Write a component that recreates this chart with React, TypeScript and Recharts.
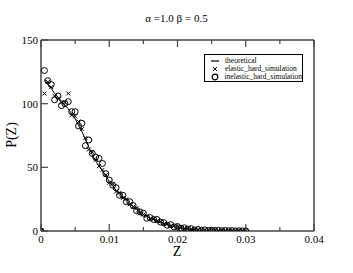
import React from 'react';
import { ComposedChart, Line, Scatter, XAxis, YAxis, Legend } from 'recharts';

const Z = [
  0, 0.0005, 0.001, 0.0015, 0.002, 0.0025, 0.003, 0.0035, 0.004, 0.0045,
  0.005, 0.0055, 0.006, 0.0065, 0.007, 0.0075, 0.008, 0.0085, 0.009, 0.0095,
  0.01, 0.0105, 0.011, 0.0115, 0.012, 0.0125, 0.013, 0.0135, 0.014, 0.0145,
  0.015, 0.0155, 0.016, 0.0165, 0.017, 0.0175, 0.018, 0.0185, 0.019, 0.0195,
  0.02, 0.0205, 0.021, 0.0215, 0.022, 0.0225, 0.023, 0.0235, 0.024, 0.0245,
  0.025, 0.0255, 0.026, 0.0265, 0.027, 0.0275, 0.028, 0.0285, 0.029, 0.0295, 0.03,
];

const THEORETICAL = [
  null, 119, 115, 112, 108, 105, 102, 99, 96, 92,
  88, 83, 78, 72, 66, 60, 55, 51, 47, 43,
  39, 35.5, 32, 29.5, 27, 24.5, 22, 19.5, 17, 15,
  13, 11.5, 10, 9, 8, 7, 6, 5, 4.2, 3.5,
  2.9, 2.4, 2, 1.6, 1.3, 1, 0.8, 0.65, 0.5, 0.4,
  0.32, 0.26, 0.2, 0.16, 0.13, 0.1, 0.08, 0.06, 0.05, 0.04, 0.03,
];

const ELASTIC = [
  0, 108, 117, 113, 106, 104, 101, 101, 108, 91,
  90, 86, 80, 73, 64, 62, 56, 51, 48, 44,
  38, 37, 31, 30, 26, 25, 21, 19, 18, 14,
  13, 12, 9.5, 9.5, 8, 7.5, 5.5, 5.5, 3.8, 4,
  2.6, 2.8, 1.8, 1.9, 1.1, 1.3, 0.7, 0.9, 0.5, 0.6,
  0.3, 0.4, 0.2, 0.3, 0.1, 0.2, 0.1, 0.1, 0.05, 0.1, 0.05,
];

const INELASTIC = [
  0, 126, 118, 115, 103, 106, 98.5, 100, 101.6, 93.7,
  93.7, 82.5, 84.6, 67, 71.5, 61, 58, 57, 53, 45,
  40, 36, 34, 28, 28, 23, 23, 20, 16, 15,
  14, 10, 10.5, 9, 9, 7, 6.5, 4.5, 5, 3.2,
  3.5, 2.2, 2.5, 1.5, 1.8, 0.8, 1.2, 0.6, 0.9, 0.4,
  0.6, 0.3, 0.5, 0.2, 0.4, 0.2, 0.3, 0.1, 0.2, 0.1, 0.1,
];

const X_TICKS = [0, 0.005, 0.01, 0.015, 0.02, 0.025, 0.03, 0.035, 0.04];
const X_LABELS = ['0', '', '0.01', '', '0.02', '', '0.03', '', '0.04'];
const Y_TICKS = [0, 50, 100, 150];
const Y_LABELS = ['0', '50', '100', '150'];

const TITLE = 'α =1.0 β = 0.5';
const X_TITLE = 'Z';
const Y_TITLE = 'P(Z)';
const SERIES_NAMES = ['theoretical', 'elastic_hard_simulation', 'inelastic_hard_simulation'];

const data = Z.map((z, i) => ({
  z,
  theo: THEORETICAL[i],
  el: ELASTIC[i],
  inel: INELASTIC[i],
}));

const FONT = '"Liberation Serif", "Times New Roman", serif';
const AXIS = '#444';

const BottomTick = (props: any) => {
  const { x, y, index } = props;
  const label = X_LABELS[index];
  const major = label !== '';
  return (
    <g>
      <line x1={x} y1={y} x2={x} y2={y - (major ? 7 : 4)} stroke={AXIS} strokeWidth={1.2} />
      {major && (
        <text x={x} y={y + 11.5} textAnchor="middle" fontSize={11} fontFamily={FONT} fill="#000">
          {label}
        </text>
      )}
    </g>
  );
};

const TopTick = (props: any) => {
  const { x, y, index } = props;
  const major = X_LABELS[index] !== '';
  return <line x1={x} y1={y} x2={x} y2={y + (major ? 7 : 4)} stroke={AXIS} strokeWidth={1.2} />;
};

const LeftTick = (props: any) => {
  const { x, y, index } = props;
  return (
    <g>
      <line x1={x} y1={y} x2={x + 7} y2={y} stroke={AXIS} strokeWidth={1.2} />
      <text x={x - 3} y={y + 4} textAnchor="end" fontSize={11} fontFamily={FONT} fill="#000">
        {Y_LABELS[index]}
      </text>
    </g>
  );
};

const Cross = (props: any) => {
  const { cx, cy } = props;
  if (cx == null || cy == null) return null;
  const s = 2;
  return (
    <g>
      <line x1={cx - s} y1={cy - s} x2={cx + s} y2={cy + s} stroke="#000" strokeWidth={1} />
      <line x1={cx - s} y1={cy + s} x2={cx + s} y2={cy - s} stroke="#000" strokeWidth={1} />
    </g>
  );
};

const Circle = (props: any) => {
  const { cx, cy } = props;
  if (cx == null || cy == null) return null;
  return <circle cx={cx} cy={cy} r={3} fill="none" stroke="#000" strokeWidth={1} />;
};

const LegendBox = () => (
  <div
    style={{
      width: 99,
      height: 28,
      border: '1px solid #000',
      background: '#fff',
      boxSizing: 'border-box',
      fontFamily: FONT,
      fontSize: 7.5,
      lineHeight: '8px',
      padding: '2px 0 0 0',
      color: '#000',
    }}
  >
    {SERIES_NAMES.map((n, i) => (
      <div key={n} style={{ display: 'flex', alignItems: 'center', height: 8 }}>
        <svg width={20} height={8} style={{ display: 'block' }}>
          {i === 0 && <line x1={6} y1={4} x2={14} y2={4} stroke="#333" strokeWidth={1.5} />}
          {i === 1 && (
            <g>
              <line x1={8} y1={2} x2={12} y2={6} stroke="#000" />
              <line x1={8} y1={6} x2={12} y2={2} stroke="#000" />
            </g>
          )}
          {i === 2 && <circle cx={10} cy={4} r={2.8} fill="none" stroke="#000" strokeWidth={1.2} />}
        </svg>
        <span style={{ whiteSpace: 'nowrap' }}>{n}</span>
      </div>
    ))}
  </div>
);

export default function App() {
  return (
    <div style={{ position: 'absolute', left: 0, top: 0, width: 353, height: 273, background: '#fff' }}>
      <ComposedChart
        width={353}
        height={273}
        data={data}
        margin={{ top: 39, right: 38, bottom: 41, left: 40 }}
      >
        <XAxis
          xAxisId="b"
          type="number"
          dataKey="z"
          domain={[0, 0.04]}
          ticks={X_TICKS}
          interval={0}
          height={1}
          tickSize={0}
          tickMargin={0}
          tickLine={false}
          tick={<BottomTick />}
          axisLine={{ stroke: AXIS, strokeWidth: 1.5 }}
          allowDataOverflow
        />
        <XAxis
          xAxisId="t"
          orientation="top"
          type="number"
          dataKey="z"
          domain={[0, 0.04]}
          ticks={X_TICKS}
          interval={0}
          height={1}
          tickSize={0}
          tickMargin={0}
          tickLine={false}
          tick={<TopTick />}
          axisLine={{ stroke: AXIS, strokeWidth: 1.5 }}
          allowDataOverflow
        />
        <YAxis
          yAxisId="l"
          type="number"
          domain={[0, 150]}
          ticks={Y_TICKS}
          interval={0}
          width={1}
          tickSize={0}
          tickMargin={0}
          tickLine={false}
          tick={<LeftTick />}
          axisLine={{ stroke: AXIS, strokeWidth: 1.5 }}
          allowDataOverflow
        />
        <YAxis
          yAxisId="r"
          orientation="right"
          type="number"
          domain={[0, 150]}
          ticks={Y_TICKS}
          width={1}
          tick={false}
          tickLine={false}
          axisLine={{ stroke: AXIS, strokeWidth: 1.5 }}
          allowDataOverflow
        />
        <Legend
          layout="horizontal"
          verticalAlign="middle"
          align="center"
          content={<LegendBox />}
          wrapperStyle={{ position: 'absolute', left: 204, top: 54, width: 99, height: 28 }}
        />
        <Line
          xAxisId="b"
          yAxisId="l"
          dataKey="theo"
          name={SERIES_NAMES[0]}
          stroke="#000"
          strokeWidth={1}
          dot={false}
          isAnimationActive={false}
        />
        <Scatter
          xAxisId="b"
          yAxisId="l"
          dataKey="el"
          name={SERIES_NAMES[1]}
          shape={<Cross />}
          isAnimationActive={false}
        />
        <Scatter
          xAxisId="b"
          yAxisId="l"
          dataKey="inel"
          name={SERIES_NAMES[2]}
          shape={<Circle />}
          isAnimationActive={false}
        />
        <Line
          xAxisId="t"
          yAxisId="r"
          dataKey="theo"
          stroke="none"
          dot={false}
          legendType="none"
          isAnimationActive={false}
        />
      </ComposedChart>
      <div style={{ position: 'absolute', left: 0, width: 353, top: 11, textAlign: 'center', fontFamily: FONT, fontSize: 11, lineHeight: '14px' }}>
        {TITLE}
      </div>
      <div style={{ position: 'absolute', left: 127, width: 100, top: 246, textAlign: 'center', fontFamily: FONT, fontSize: 14, lineHeight: '12px' }}>
        {X_TITLE}
      </div>
      <div
        style={{
          position: 'absolute',
          left: -38,
          top: 127,
          width: 100,
          textAlign: 'center',
          fontFamily: FONT,
          fontSize: 14,
          lineHeight: '16px',
          transform: 'rotate(-90deg)',
        }}
      >
        {Y_TITLE}
      </div>
    </div>
  );
}
